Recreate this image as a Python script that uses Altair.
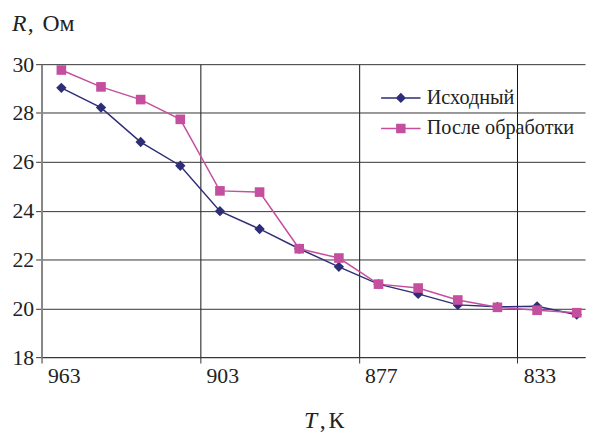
import altair as alt
import pandas as pd

series_names = ["Исходный", "После обработки"]
x_tick_labels = ["963", "903", "877", "833"]
point_index = list(range(14))
ishodny = [29.03, 28.22, 26.81, 25.84, 23.98, 23.25, 22.44, 21.70, 20.99, 20.59, 20.14, 20.06, 20.08, 19.74]
posle = [29.76, 29.07, 28.55, 27.74, 24.81, 24.76, 22.44, 22.06, 20.99, 20.83, 20.34, 20.04, 19.92, 19.82]
y_ticks = [18, 20, 22, 24, 26, 28, 30]
x_ticks = [-0.5, 3.5, 7.5, 11.5]

colors = ["#2E2E78", "#C44F9E"]
FONT = "Liberation Serif"

rows = []
for i, a, b in zip(point_index, ishodny, posle):
    rows.append({"i": i, "v": a, "s": series_names[0]})
    rows.append({"i": i, "v": b, "s": series_names[1]})
df = pd.DataFrame(rows)

label_expr = "[" + ",".join("'%s'" % t for t in x_tick_labels) + "][round((datum.value+0.5)/4)]"

x_enc = alt.X(
    "i:Q",
    scale=alt.Scale(domain=[-0.5, 13.21], nice=False, zero=False),
    axis=alt.Axis(
        values=x_ticks, labelExpr=label_expr, title=None, grid=True, gridColor="#111",
        gridOpacity=1, tickSize=6, tickColor="#333", labelAlign="left", labelOffset=6,
        labelFlush=False, labelBaseline="top", labelPadding=3, domainColor="#333",
        labelFont=FONT, labelFontSize=22, labelColor="#222",
    ),
)
y_enc = alt.Y(
    "v:Q",
    scale=alt.Scale(domain=[18, 30], nice=False, zero=False),
    axis=alt.Axis(
        values=y_ticks, format="d", title=None, grid=True, gridColor="#333",
        gridOpacity=1, tickSize=6, tickColor="#333", labelPadding=2,
        domainColor="#888", domainWidth=2, labelFont=FONT, labelFontSize=22,
        labelColor="#222",
    ),
)
color_scale = alt.Scale(domain=series_names, range=colors)

path_d = "M-2,-0.08H2V0.08H-2Z M0,-0.52L0.52,0L0,0.52L-0.52,0Z"
path_s = "M-2,-0.08H2V0.08H-2Z M-0.48,-0.48H0.48V0.48H-0.48Z"
leg = alt.Legend(title=None, orient="none", legendX=354, legendY=24, padding=0,
                 symbolSize=400, rowPadding=10, labelOffset=16, labelFont=FONT,
                 labelFontSize=20.5, labelColor="#222", symbolStrokeWidth=0)
color_enc = alt.Color("s:N", scale=color_scale, legend=leg)

base = alt.Chart(df)

lines = base.mark_line(strokeWidth=1.5).encode(
    x=x_enc, y=y_enc, color=color_enc, detail="s:N"
)
diamonds = base.transform_filter(alt.datum.s == series_names[0]).mark_point(
    shape="diamond", filled=True, size=110, opacity=1
).encode(x=x_enc, y=y_enc, color=color_enc)
squares = base.transform_filter(alt.datum.s == series_names[1]).mark_point(
    shape="square", filled=True, size=95, opacity=1
).encode(x=x_enc, y=y_enc, color=color_enc)

legend_layer = base.transform_filter("false").mark_point(filled=True, opacity=1).encode(
    x=x_enc, y=y_enc,
    color=color_enc,
    shape=alt.Shape("s:N", scale=alt.Scale(domain=series_names, range=[path_d, path_s]), legend=leg),
)

def txt(t, x, y, italic=False, size=24):
    return alt.Chart(pd.DataFrame({"t": [t]})).mark_text(
        font=FONT, fontSize=size, fontStyle="italic" if italic else "normal",
        align="left", baseline="middle", color="#222"
    ).encode(text="t:N", x=alt.value(x), y=alt.value(y))

titles = [
    txt("R", -30, -41, True),
    txt(",", -14, -41),
    txt("Ом", 1, -41),
    txt("T", 266, 362, True),
    txt(",", 282, 362),
    txt("К", 291, 362),
]

chart = alt.layer(lines, diamonds, squares, legend_layer, *titles).properties(
    width=551, height=297,
    autosize=alt.AutoSizeParams(type="none"),
    padding={"left": 34, "top": 54, "right": 4, "bottom": 76},
).configure_view(stroke=None)

chart.save("out.html", embed_options={"renderer": "svg", "actions": False})
